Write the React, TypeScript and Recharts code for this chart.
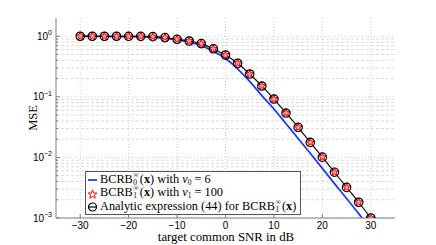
import React from 'react';
import { LineChart, Line, XAxis, YAxis, CartesianGrid, Label } from 'recharts';

// target common SNR (dB), one marker every 2.5 dB
const snrDb = [-30, -27.5, -25, -22.5, -20, -17.5, -15, -12.5, -10, -7.5, -5, -2.5, 0, 2.5, 5, 7.5, 10, 12.5, 15, 17.5, 20, 22.5, 25, 27.5, 30];

// BCRB_0 with nu_0 = 6 (blue line)
const bcrb0Mse = [1.0, 1.0, 0.995, 0.99, 0.985, 0.975, 0.96, 0.93, 0.87, 0.8, 0.7, 0.565, 0.43, 0.29, 0.18, 0.105, 0.063, 0.036, 0.0205, 0.0117, 0.0066, 0.0037, 0.0021, 0.00118, 0.00066];

// BCRB_1 with nu_1 = 100 (red stars)
const bcrb1Mse = [1.0, 1.0, 1.0, 1.0, 0.998, 0.995, 0.985, 0.95, 0.89, 0.835, 0.755, 0.62, 0.49, 0.358, 0.238, 0.151, 0.092, 0.054, 0.0314, 0.0177, 0.0101, 0.0057, 0.0032, 0.00182, 0.001];

// analytic expression (44) (black line with circles)
const analyticMse = [1.0, 1.0, 1.0, 1.0, 0.998, 0.995, 0.985, 0.95, 0.89, 0.835, 0.755, 0.62, 0.49, 0.358, 0.238, 0.151, 0.092, 0.054, 0.0314, 0.0177, 0.0101, 0.0057, 0.0032, 0.00182, 0.001];

const xTicks = [-30, -20, -10, 0, 10, 20, 30];
const yDecades = [0.001, 0.01, 0.1, 1];
const yExponents = ['\u22123', '\u22122', '\u22121', '0'];
const minorMultipliers = [2, 3, 4, 5, 6, 7, 8, 9];

const yMinor: number[] = [];
yDecades.slice(0, 3).forEach(d => minorMultipliers.forEach(m => yMinor.push(d * m)));
const yAllTicks = [...yDecades, ...yMinor].sort((a, b) => a - b);

const data = snrDb.map((snr, i) => ({
  snr,
  bcrb0: bcrb0Mse[i],
  bcrb1: bcrb1Mse[i],
  analytic: analyticMse[i],
}));

const FRAME = '#7f7f7f';
const TICK_FONT = '"Liberation Sans", Arial, sans-serif';
const SERIF = '"Liberation Serif", "Times New Roman", serif';

const isDecade = (v: number) => yDecades.some(d => Math.abs(d - v) / d < 1e-6);

const BottomTick = ({ x, y, payload }: any) => (
  <g>
    <line x1={x} y1={y} x2={x} y2={y - 4} stroke={FRAME} />
    <text x={x} y={y + 11} textAnchor="middle" fontFamily={TICK_FONT} fontSize={10} fill="#000">
      {payload.value < 0 ? '\u2212' + Math.abs(payload.value) : payload.value}
    </text>
  </g>
);

const TopTick = ({ x, y }: any) => <line x1={x} y1={y} x2={x} y2={y + 4} stroke={FRAME} />;

const LeftTick = ({ x, y, payload }: any) => {
  const idx = yDecades.findIndex(d => Math.abs(d - payload.value) / d < 1e-6);
  if (idx < 0) return <line x1={x} y1={y} x2={x + 2} y2={y} stroke={FRAME} />;
  return (
    <g>
      <line x1={x} y1={y} x2={x + 4} y2={y} stroke={FRAME} />
      <text x={x - 4} y={y + 3.5} textAnchor="end" fontFamily={TICK_FONT} fontSize={10} fill="#000">
        <tspan>10</tspan>
        <tspan dy={-4.5} fontSize={7}>{yExponents[idx]}</tspan>
      </text>
    </g>
  );
};

const RightTick = ({ x, y, payload }: any) => (
  <line x1={x} y1={y} x2={x - (isDecade(payload.value) ? 4 : 2)} y2={y} stroke={FRAME} />
);

const starPath = (cx: number, cy: number, ro: number, ri: number) => {
  let d = '';
  for (let k = 0; k < 10; k++) {
    const r = k % 2 === 0 ? ro : ri;
    const a = -Math.PI / 2 + (k * Math.PI) / 5;
    d += (k === 0 ? 'M' : 'L') + (cx + r * Math.cos(a)).toFixed(2) + ',' + (cy + r * Math.sin(a)).toFixed(2);
  }
  return d + 'Z';
};

const StarDot = (props: any) => {
  const { cx, cy, index } = props;
  if (cx == null || cy == null) return <g key={index} />;
  return <path key={index} d={starPath(cx, cy, 4.4, 1.8)} fill="#f4a0a0" stroke="#ff0000" strokeWidth={1} />;
};

const CircleDot = (props: any) => {
  const { cx, cy, index } = props;
  if (cx == null || cy == null) return <g key={index} />;
  return <circle key={index} cx={cx} cy={cy} r={4.2} fill="none" stroke="#000" strokeWidth={1.2} />;
};

const Bcrb = ({ sub }: { sub: string }) => (
  <span>
    BCRB
    <span style={{ display: 'inline-block', position: 'relative', width: 7, height: 8 }}>
      <span style={{ position: 'absolute', left: 0.5, top: -4, fontSize: 7.5, lineHeight: '7px' }}>{'\u221e'}</span>
      <span style={{ position: 'absolute', left: 0.5, top: 4, fontSize: 7.5, lineHeight: '7px' }}>{sub}</span>
    </span>
    (<b>x</b>)
  </span>
);

const Nu = ({ sub }: { sub: string }) => (
  <span>
    <i>{'\u03bd'}</i>
    <span style={{ fontSize: 7.5, position: 'relative', top: 2 }}>{sub}</span>
  </span>
);

const LegendBox = () => (
  <div style={{
    position: 'absolute', left: 85, top: 171, background: '#fff', border: '1px solid #555',
    fontFamily: SERIF, fontSize: 12.3, lineHeight: '13.7px', padding: '1px 4px 0px 1px', color: '#000',
    whiteSpace: 'nowrap',
  }}>
    <div style={{ display: 'flex', alignItems: 'center', height: 13.7 }}>
      <svg width={13} height={14}><line x1={1} y1={7} x2={10} y2={7} stroke="#1f3cff" strokeWidth={1.8} /></svg>
      <span><Bcrb sub="0" /> with <Nu sub="0" /> = 6</span>
    </div>
    <div style={{ display: 'flex', alignItems: 'center', height: 13.7 }}>
      <svg width={13} height={14}><path d={starPath(5.5, 7.5, 4.6, 1.9)} fill="none" stroke="#ff0000" strokeWidth={1} /></svg>
      <span><Bcrb sub="1" /> with <Nu sub="1" /> = 100</span>
    </div>
    <div style={{ display: 'flex', alignItems: 'center', height: 13.7 }}>
      <svg width={13} height={14}>
        <line x1={1} y1={7} x2={10} y2={7} stroke="#000" strokeWidth={1.2} />
        <circle cx={5.5} cy={7} r={4} fill="none" stroke="#000" strokeWidth={1.2} />
      </svg>
      <span>Analytic expression (44) for <Bcrb sub="1" /></span>
    </div>
  </div>
);

export default function App() {
  return (
    <div style={{ position: 'absolute', left: 0, top: 0, width: 436, height: 245, background: '#fff' }}>
      <LineChart width={436} height={245} data={data} margin={{ top: 18, right: 41, bottom: 0, left: 0 }}>
        <CartesianGrid horizontalValues={yMinor} vertical={false} stroke="#dcdcdc" strokeDasharray="3 2" />
        <CartesianGrid horizontalValues={yDecades} verticalValues={xTicks} stroke="#d0d0d0" strokeDasharray="1 2" />
        <XAxis
          dataKey="snr" type="number" domain={[-35, 35]} ticks={xTicks} interval={0}
          height={27} tickSize={0} tickMargin={0} tick={<BottomTick />} stroke={FRAME}
        >
          <Label
            content={() => (
              <text x={226} y={241} textAnchor="middle" fontFamily={SERIF} fontSize={12.8} fill="#000">
                target common SNR in dB
              </text>
            )}
          />
        </XAxis>
        <XAxis
          xAxisId="top" orientation="top" dataKey="snr" type="number" domain={[-35, 35]} ticks={xTicks}
          interval={0} height={0} tickSize={0} tickMargin={0} tick={<TopTick />} stroke={FRAME}
        />
        <YAxis
          scale="log" domain={[0.001, 2]} allowDataOverflow type="number" ticks={yAllTicks} interval={0}
          width={56} tickSize={0} tickMargin={0} tick={<LeftTick />} stroke={FRAME}
        >
          <Label
            content={() => (
              <text x={0} y={0} transform="translate(37,118) rotate(-90)" textAnchor="middle" fontFamily={SERIF} fontSize={12.5} fill="#000">
                MSE
              </text>
            )}
          />
        </YAxis>
        <YAxis
          yAxisId="right" orientation="right" scale="log" domain={[0.001, 2]} allowDataOverflow type="number"
          ticks={yAllTicks} interval={0} width={0} tickSize={0} tickMargin={0} tick={<RightTick />} stroke={FRAME}
        />
        <Line
          dataKey="bcrb0" stroke="#1f3cff" strokeWidth={1.8} dot={false} activeDot={false}
          type="monotone" isAnimationActive={false}
        />
        <Line
          dataKey="bcrb1" stroke="none" dot={StarDot} activeDot={false} isAnimationActive={false}
        />
        <Line
          dataKey="analytic" stroke="#000" strokeWidth={1.1} dot={CircleDot} activeDot={false}
          type="monotone" isAnimationActive={false}
        />
      </LineChart>
      <LegendBox />
    </div>
  );
}
